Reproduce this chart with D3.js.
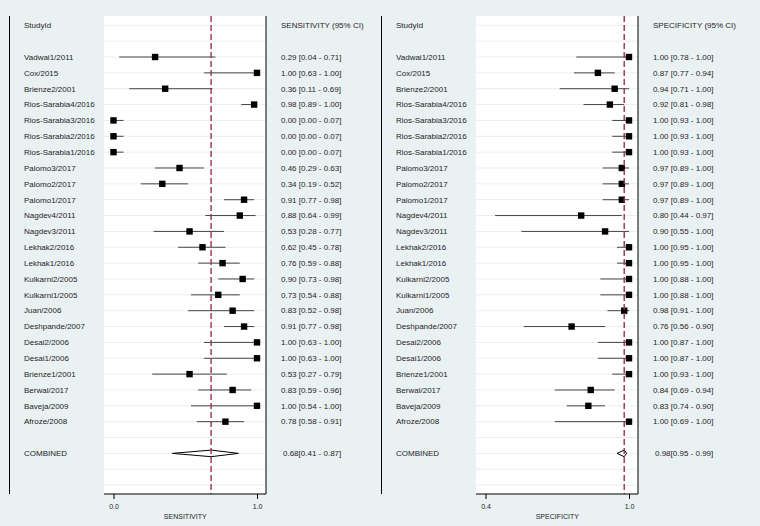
<!DOCTYPE html>
<html><head><meta charset="utf-8">
<script src="https://cdn.jsdelivr.net/npm/d3@7"></script>
<style>body{margin:0;background:#eaf1f3;}svg{display:block;}</style>
</head><body>
<script>
const studies = ["Vadwai1/2011","Cox/2015","Brienze2/2001","Rios-Sarabia4/2016","Rios-Sarabia3/2016","Rios-Sarabia2/2016","Rios-Sarabia1/2016","Palomo3/2017","Palomo2/2017","Palomo1/2017","Nagdev4/2011","Nagdev3/2011","Lekhak2/2016","Lekhak1/2016","Kulkarni2/2005","Kulkarni1/2005","Juan/2006","Deshpande/2007","Desai2/2006","Desai1/2006","Brienze1/2001","Berwal/2017","Baveja/2009","Afroze/2008"];
const sens   = [0.29,1.00,0.36,0.98,0.00,0.00,0.00,0.46,0.34,0.91,0.88,0.53,0.62,0.76,0.90,0.73,0.83,0.91,1.00,1.00,0.53,0.83,1.00,0.78];
const sensLo = [0.04,0.63,0.11,0.89,0.00,0.00,0.00,0.29,0.19,0.77,0.64,0.28,0.45,0.59,0.73,0.54,0.52,0.77,0.63,0.63,0.27,0.59,0.54,0.58];
const sensHi = [0.71,1.00,0.69,1.00,0.07,0.07,0.07,0.63,0.52,0.98,0.99,0.77,0.78,0.88,0.98,0.88,0.98,0.98,1.00,1.00,0.79,0.96,1.00,0.91];
const spec   = [1.00,0.87,0.94,0.92,1.00,1.00,1.00,0.97,0.97,0.97,0.80,0.90,1.00,1.00,1.00,1.00,0.98,0.76,1.00,1.00,1.00,0.84,0.83,1.00];
const specLo = [0.78,0.77,0.71,0.81,0.93,0.93,0.93,0.89,0.89,0.89,0.44,0.55,0.95,0.95,0.88,0.88,0.91,0.56,0.87,0.87,0.93,0.69,0.74,0.69];
const specHi = [1.00,0.94,1.00,0.98,1.00,1.00,1.00,1.00,1.00,1.00,0.97,1.00,1.00,1.00,1.00,1.00,1.00,0.90,1.00,1.00,1.00,0.94,0.90,1.00];
const combinedSens = [0.68, 0.41, 0.87];
const combinedSpec = [0.98, 0.95, 0.99];
const sensTicks = [0.0, 1.0];
const specTicks = [0.4, 1.0];

const W = 760, H = 526;
const svg = d3.select("body").append("svg").attr("width", W).attr("height", H);
svg.append("rect").attr("width", W).attr("height", H).attr("fill", "#eaf1f3");

const font = "Liberation Sans, Arial, sans-serif";
const nRows = 30;
const yRow = d3.scaleLinear().domain([0, nRows - 1]).range([25.3, 485.1]);
const topY = 16, bottomY = 494;
const fmt = d3.format(".2f");
const txtCol = "#1e1e1e";

function panel(opt) {
  const g = svg.append("g");
  const x = d3.scaleLinear().domain(opt.domain).range(opt.range);
  g.append("line").attr("x1", opt.leftLine).attr("x2", opt.leftLine).attr("y1", topY).attr("y2", bottomY)
    .attr("stroke", "#000").attr("stroke-width", 1);
  g.append("rect").attr("x", opt.plotL).attr("y", topY).attr("width", opt.plotR - opt.plotL).attr("height", bottomY - topY)
    .attr("fill", "#fff");
  g.selectAll(".grid").data(d3.range(nRows)).join("line")
    .attr("x1", opt.plotL).attr("x2", opt.plotR)
    .attr("y1", d => yRow(d)).attr("y2", d => yRow(d))
    .attr("stroke", "#e9eef0").attr("stroke-width", 1);
  g.append("line").attr("x1", opt.plotR).attr("x2", opt.plotR).attr("y1", topY).attr("y2", bottomY)
    .attr("stroke", "#000").attr("stroke-width", 1);
  g.append("text").attr("x", opt.labelX).attr("y", yRow(0)).attr("dy", "0.35em")
    .attr("font-family", font).attr("font-size", 8).attr("fill", txtCol).text("StudyId");
  g.append("text").attr("x", opt.valX).attr("y", yRow(0)).attr("dy", "0.35em")
    .attr("font-family", font).attr("font-size", 8).attr("fill", txtCol).text(opt.header);
  g.selectAll(".lab").data(studies).join("text")
    .attr("x", opt.labelX).attr("y", (d, i) => yRow(i + 2)).attr("dy", "0.35em")
    .attr("font-family", font).attr("font-size", 8).attr("fill", txtCol).text(d => d);
  g.selectAll(".val").data(opt.est).join("text")
    .attr("x", opt.valX).attr("y", (d, i) => yRow(i + 2)).attr("dy", "0.35em")
    .attr("font-family", font).attr("font-size", 8).attr("fill", txtCol)
    .text((d, i) => `${fmt(d)} [${fmt(opt.lo[i])} - ${fmt(opt.hi[i])}]`);
  g.selectAll(".ci").data(opt.est).join("line")
    .attr("x1", (d, i) => x(opt.lo[i])).attr("x2", (d, i) => x(opt.hi[i]))
    .attr("y1", (d, i) => yRow(i + 2)).attr("y2", (d, i) => yRow(i + 2))
    .attr("stroke", "#444").attr("stroke-width", 1);
  const s = 6.4;
  g.selectAll(".pt").data(opt.est).join("rect")
    .attr("x", d => x(d) - s / 2).attr("y", (d, i) => yRow(i + 2) - s / 2)
    .attr("width", s).attr("height", s).attr("fill", "#000");
  const c = opt.comb, cy = yRow(27), hh = 3.3;
  g.append("path")
    .attr("d", `M${x(c[1])},${cy} L${x(c[0])},${cy - hh} L${x(c[2])},${cy} L${x(c[0])},${cy + hh} Z`)
    .attr("fill", "#fff").attr("stroke", "#000").attr("stroke-width", 1);
  g.append("text").attr("x", opt.labelX).attr("y", cy).attr("dy", "0.35em")
    .attr("font-family", font).attr("font-size", 8).attr("fill", txtCol).text("COMBINED");
  g.append("text").attr("x", opt.valX + 2).attr("y", cy).attr("dy", "0.35em")
    .attr("font-family", font).attr("font-size", 8).attr("fill", txtCol)
    .text(`${fmt(c[0])}[${fmt(c[1])} - ${fmt(c[2])}]`);
  g.append("line").attr("x1", x(c[0])).attr("x2", x(c[0])).attr("y1", topY).attr("y2", bottomY)
    .attr("stroke", "#9c2f55").attr("stroke-width", 1.4).attr("stroke-dasharray", "6,3");
  const ax = g.append("g").attr("transform", `translate(0,${bottomY})`)
    .call(d3.axisBottom(x).tickValues(opt.ticks).tickFormat(d3.format(".1f")).tickSize(5).tickSizeOuter(0));
  ax.select(".domain").remove();
  ax.append("line").attr("x1", opt.plotL).attr("x2", opt.plotR).attr("stroke", "#000");
  ax.selectAll(".tick line").attr("stroke", "#000");
  ax.selectAll(".tick text").attr("font-family", font).attr("font-size", 7).attr("fill", txtCol).attr("y", 10);
  g.append("text").attr("x", (opt.range[0] + opt.range[1]) / 2).attr("y", 519)
    .attr("text-anchor", "middle").attr("font-family", font).attr("font-size", 7).attr("fill", txtCol)
    .text(opt.title);
}

panel({
  domain: [0, 1], range: [113.5, 257], leftLine: 9.5, plotL: 104, plotR: 266,
  labelX: 24, valX: 281, header: "SENSITIVITY (95% CI)", title: "SENSITIVITY",
  est: sens, lo: sensLo, hi: sensHi, comb: combinedSens, ticks: sensTicks
});
panel({
  domain: [0.4, 1], range: [485.5, 629], leftLine: 381.5, plotL: 476, plotR: 638,
  labelX: 396, valX: 653, header: "SPECIFICITY (95% CI)", title: "SPECIFICITY",
  est: spec, lo: specLo, hi: specHi, comb: combinedSpec, ticks: specTicks
});
</script>
</body></html>
